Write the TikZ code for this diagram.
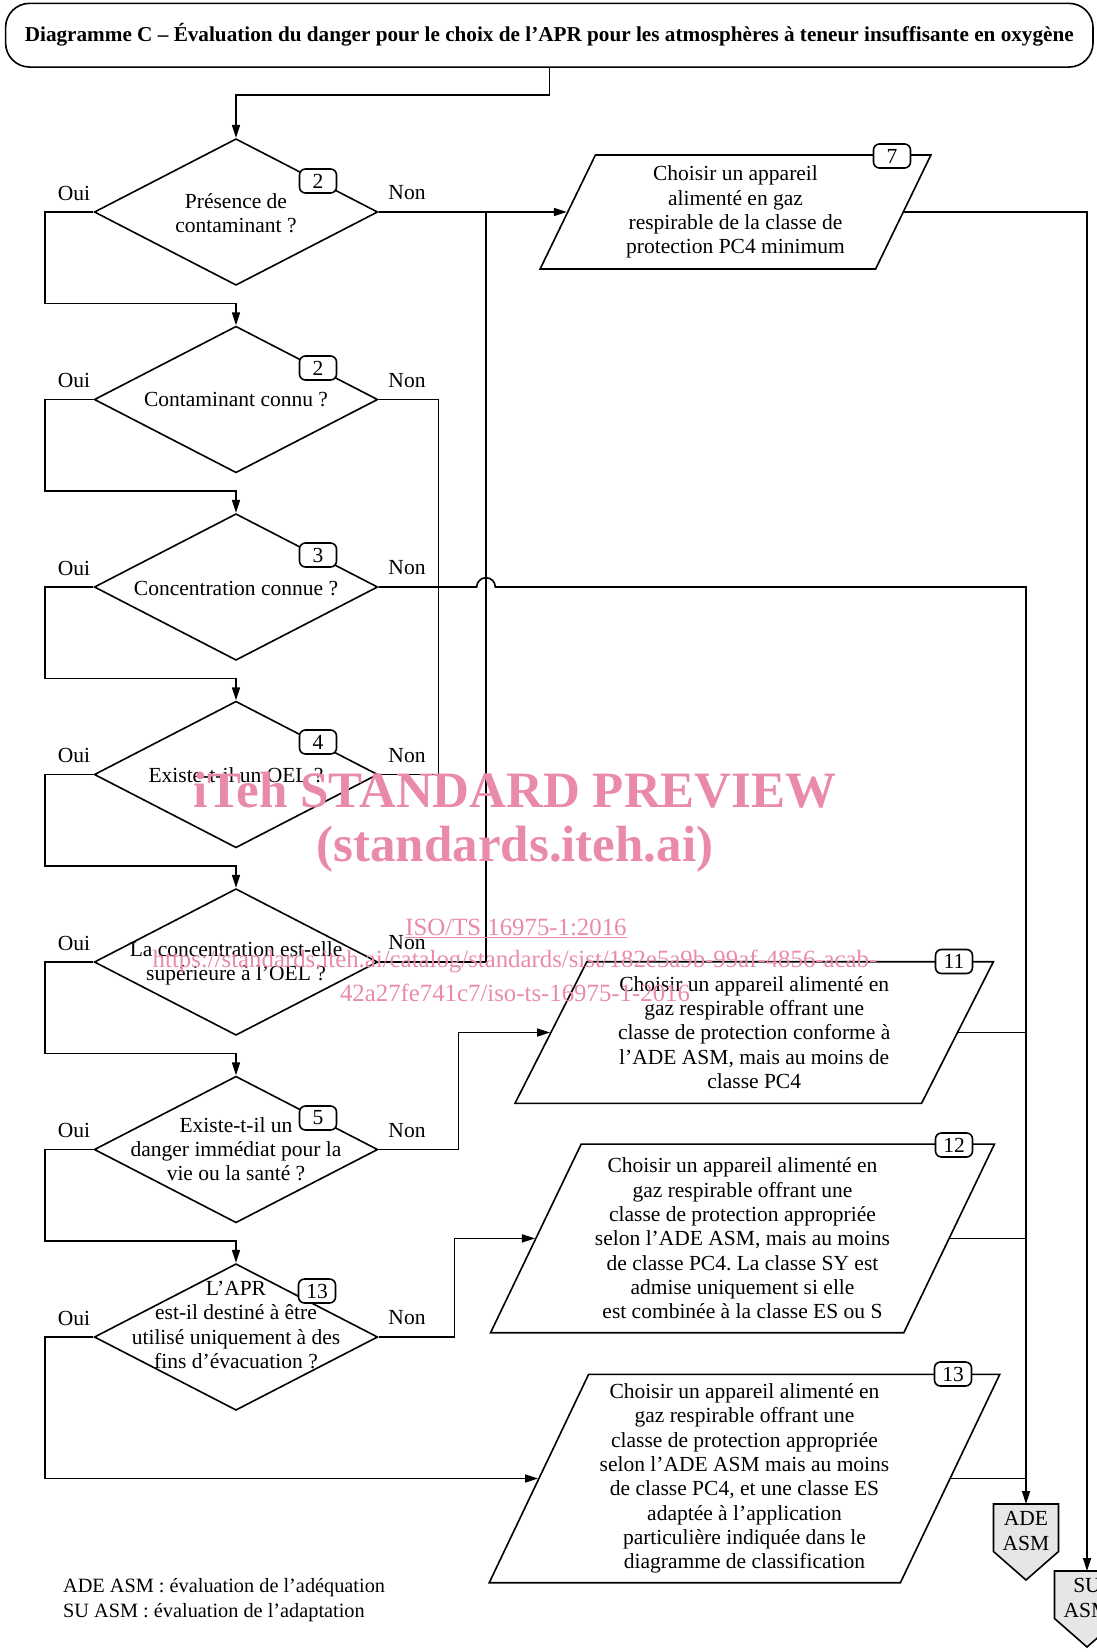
\documentclass[tikz,border=0pt]{standalone}
\usepackage{fontspec}
\setmainfont{Liberation Serif}
\usepackage{tikz}
\usetikzlibrary{shapes.geometric}
\usetikzlibrary{arrows.meta}
\definecolor{wm}{HTML}{E98BA8}
\definecolor{lg}{HTML}{E6E6E6}
\newcommand{\asmbox}[3]{
\begin{scope}[shift={#2}]
\filldraw[fill=lg] (-32.5,0) -- (32.5,0) -- (32.5,47.5) -- (0,76) -- (-32.5,47.5) -- cycle;
\coordinate (#1) at (0,0);
\node[align=center] (#1t) at (0,27) {#3};
\end{scope}
}
\tikzset{
decision/.style={draw,diamond,minimum width=283.5pt,minimum height=146.6pt,inner sep=0pt},
choicebox/.style={draw,trapezium,trapezium stretches=true,align=center,inner sep=2pt},
num/.style={draw,fill=white,rounded corners=6pt,minimum width=37pt,minimum height=24pt,inner sep=0pt},
flow/.style={-{Triangle[length=13pt,width=8pt]}},
wmark/.style={text=wm}
}
\frenchspacing

\begin{document}
\begin{tikzpicture}[x=1pt,y=-1pt,line width=1.6pt,font=\fontsize{21.5}{24.3}\selectfont]
\useasboundingbox (0,0) rectangle (1097,1652);
\clip (0,0) rectangle (1097,1652);
\node[draw,rounded corners=24pt,minimum width=1087.4pt,minimum height=63.7pt] (title) at (549.3,35.2) {\fontsize{21.2}{24}\selectfont\bfseries Diagramme C – Évaluation du danger pour le choix de l’APR pour les atmosphères à teneur insuffisante en oxygène};
\node[decision] (q1) at (236,212) {};
\node[decision] (q2) at (236,399.5) {};
\node[decision] (q3) at (236,587) {};
\node[decision] (q4) at (236,774.5) {};
\node[decision] (q5) at (236,962) {};
\node[decision] (q6) at (236,1149.5) {};
\node[decision] (q7) at (236,1337) {};
\node[align=center] (q1t) at (236,213) {Présence de\\contaminant ?};
\node (q2t) at (236,400) {Contaminant connu ?};
\node (q3t) at (236,589) {Concentration connue ?};
\node (q4t) at (236,775) {Existe-t-il un OEL ?};
\node[align=center] (q5t) at (236,963) {La concentration est-elle\\supérieure à l’OEL ?};
\node[align=center] (q6t) at (236,1149) {Existe-t-il un\\danger immédiat pour la\\vie ou la santé ?};
\node[align=center] (q7t) at (236,1325) {L’APR\\est-il destiné à être\\utilisé uniquement à des\\fins d’évacuation ?};
\node[num] (q1n) at (318,181) {2};
\node[num] (q2n) at (318,368) {2};
\node[num] (q3n) at (318,555) {3};
\node[num] (q4n) at (318,742) {4};
\node[num] (q6n) at (318,1118) {5};
\node[num] (q7n) at (317,1291) {13};
\node (oui1) at (74,193) {Oui};
\node (non1) at (407,193) {Non};
\node (oui2) at (74,380.5) {Oui};
\node (non2) at (407,380.5) {Non};
\node (oui3) at (74,568) {Oui};
\node (non3) at (407,568) {Non};
\node (oui4) at (74,755.5) {Oui};
\node (non4) at (407,755.5) {Non};
\node (oui5) at (74,943) {Oui};
\node (non5) at (407,943) {Non};
\node (oui6) at (74,1130.5) {Oui};
\node (non6) at (407,1130.5) {Non};
\node (oui7) at (74,1318) {Oui};
\node (non7) at (407,1318) {Non};
\node[choicebox,minimum width=391pt,minimum height=114pt,trapezium left angle=65.5,trapezium right angle=114.5] (p7) at (735.5,212) {Choisir un appareil\\alimenté en gaz\\respirable de la classe de\\protection PC4 minimum};
\node[choicebox,minimum width=481.3pt,minimum height=141.6pt,trapezium left angle=63,trapezium right angle=117] (p11) at (754.2,1032.5) {Choisir un appareil alimenté en\\gaz respirable offrant une\\classe de protection conforme à\\l’ADE ASM, mais au moins de\\classe PC4};
\node[choicebox,minimum width=505pt,minimum height=188.7pt,trapezium left angle=63,trapezium right angle=117] (p12) at (742.5,1238.4) {Choisir un appareil alimenté en\\gaz respirable offrant une\\classe de protection appropriée\\selon l’ADE ASM, mais au moins\\de classe PC4. La classe SY est\\admise uniquement si elle\\est combinée à la classe ES ou S};
\node[choicebox,minimum width=511.6pt,minimum height=208.4pt,trapezium left angle=64.2,trapezium right angle=115.8] (p13) at (744.5,1478.5) {Choisir un appareil alimenté en\\gaz respirable offrant une\\classe de protection appropriée\\selon l’ADE ASM mais au moins\\de classe PC4, et une classe ES\\adaptée à l’application\\particulière indiquée dans le\\diagramme de classification};
\node[num] (p7n) at (892,156) {7};
\node[num] (p11n) at (954,961.5) {11};
\node[num] (p12n) at (954,1145) {12};
\node[num] (p13n) at (953,1374) {13};
\asmbox{ade}{(1026,1504)}{ADE\\ASM}
\asmbox{su}{(1087,1571)}{SU\\ASM}
\coordinate (j1) at (486,212);
\coordinate (hop) at (486,587);
\draw[flow] (title.south) -- ++(0,27) -| (q1.north);
\draw[flow] (q1.west) -- ++(-48.5,0) |- ([yshift=22pt]q2.north) -- (q2.north);
\draw[flow] (q2.west) -- ++(-48.5,0) |- ([yshift=22pt]q3.north) -- (q3.north);
\draw[flow] (q3.west) -- ++(-48.5,0) |- ([yshift=22pt]q4.north) -- (q4.north);
\draw[flow] (q4.west) -- ++(-48.5,0) |- ([yshift=22pt]q5.north) -- (q5.north);
\draw[flow] (q5.west) -- ++(-48.5,0) |- ([yshift=22pt]q6.north) -- (q6.north);
\draw[flow] (q6.west) -- ++(-48.5,0) |- ([yshift=22pt]q7.north) -- (q7.north);
\draw[flow] (q7.west) -- ++(-48.5,0) |- (p13.west);
\draw[flow] (q1.east) -- (p7.west);
\draw (q5.east) -| (j1);
\draw (q2.east) -- ++(60,0) |- (q4.east);
\draw[flow] (q3.east) -- ([xshift=-9.3pt]hop) arc[start angle=180,end angle=0,radius=9.3pt] -| (ade);
\draw[flow] (q6.east) -- ++(80,0) |- (p11.west);
\draw[flow] (q7.east) -- ++(76,0) |- (p12.west);
\draw[flow] (p7.east) -| (su);
\draw (p11.east) -- (p11.east -| ade);
\draw (p12.east) -- (p12.east -| ade);
\draw (p13.east) -- (p13.east -| ade);
\node[align=left,anchor=west,font=\fontsize{20.3}{24.3}\selectfont] (legend) at (59,1600) {ADE ASM : évaluation de l’adéquation\\SU ASM : évaluation de l’adaptation};
\node[wmark,font=\fontsize{51}{51}\selectfont\bfseries] (wm1) at (515,790) {iTeh STANDARD PREVIEW};
\node[wmark,font=\fontsize{51}{51}\selectfont\bfseries] (wm2) at (515,849) {(standards.iteh.ai)};
\node[wmark,font=\fontsize{24.8}{26}\selectfont] (wm3) at (516,928) {\underline{ISO/TS 16975-1:2016}};
\node[wmark,font=\fontsize{24.8}{26}\selectfont] (wm4) at (515,961) {https://standards.iteh.ai/catalog/standards/sist/182e5a9b-99af-4856-acab-};
\node[wmark,font=\fontsize{24.8}{26}\selectfont] (wm5) at (515,993) {42a27fe741c7/iso-ts-16975-1-2016};
\end{tikzpicture}
\end{document}
